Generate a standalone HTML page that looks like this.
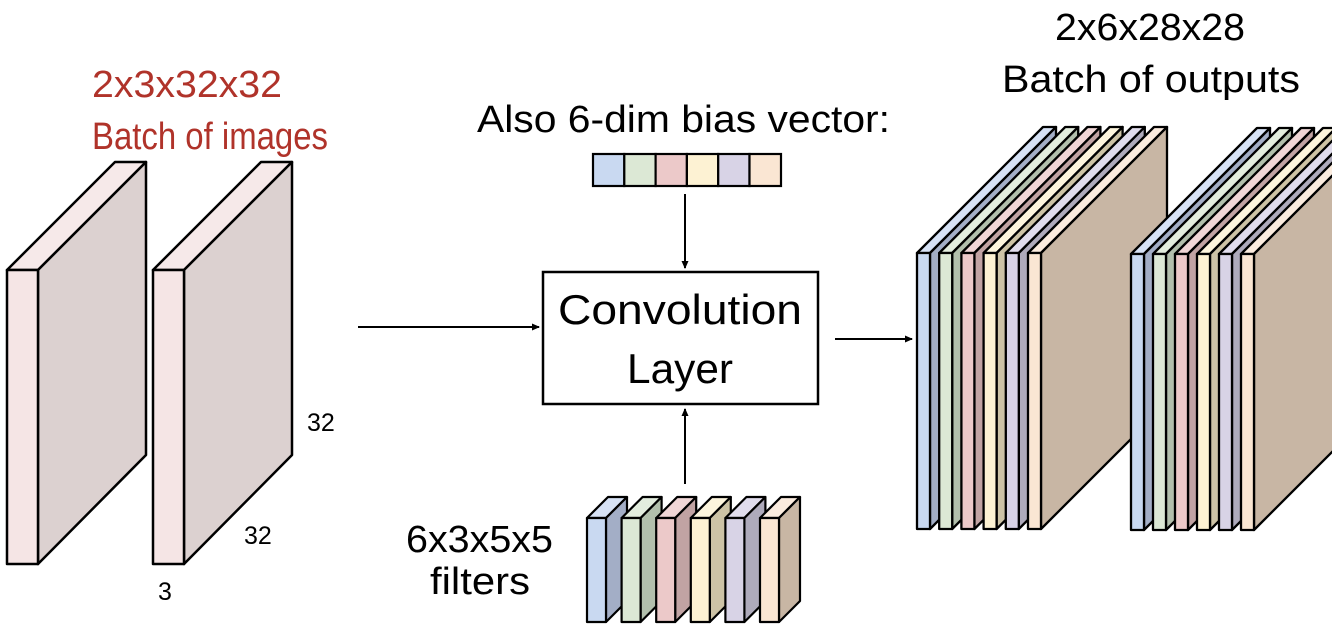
<!DOCTYPE html>
<html><head><meta charset="utf-8"><style>html,body{margin:0;padding:0;background:#fff}svg{display:block}</style></head>
<body>
<svg width="1332" height="626" viewBox="0 0 1332 626" xmlns="http://www.w3.org/2000/svg" font-family="Liberation Sans, sans-serif">
<defs>
<marker id="ah" markerWidth="8" markerHeight="8" refX="7" refY="4" orient="auto" markerUnits="userSpaceOnUse"><path d="M0,0.5 L8,4 L0,7.5 z" fill="#000"/></marker>
</defs>
<g stroke="#000" stroke-width="2.5" stroke-linejoin="round">
<polygon points="7,270 38,270 146,162 115,162" fill="#f6e9e9"/>
<polygon points="38,270 146,162 146,455 38,564" fill="#dcd1d0"/>
<rect x="7" y="270" width="31" height="294" fill="#f5e5e5"/>
<polygon points="153,270 184,270 292,162 261,162" fill="#f6e9e9"/>
<polygon points="184,270 292,162 292,455 184,564" fill="#dcd1d0"/>
<rect x="153" y="270" width="31" height="294" fill="#f5e5e5"/>
</g>
<g id="stack1" stroke="#000" stroke-width="2.3" stroke-linejoin="round"></g>
<g id="stack2" stroke="#000" stroke-width="2.3" stroke-linejoin="round"></g>
<g id="filt" stroke="#000" stroke-width="2.2" stroke-linejoin="round"></g>
<g stroke="#000" stroke-width="2.2">
<rect x="593" y="154" width="31.3" height="32" fill="#c9d9f1"/>
<rect x="624.3" y="154" width="31.3" height="32" fill="#dce8d5"/>
<rect x="655.6" y="154" width="31.3" height="32" fill="#ecc9c9"/>
<rect x="686.9" y="154" width="31.3" height="32" fill="#fdf2d3"/>
<rect x="718.2" y="154" width="31.3" height="32" fill="#d8d3e6"/>
<rect x="749.5" y="154" width="31.5" height="32" fill="#fae6d3"/>
</g>
<rect x="543" y="272" width="275" height="132" fill="#fff" stroke="#000" stroke-width="2.5"/>
<g stroke="#000" stroke-width="2" fill="none">
<line x1="685" y1="194" x2="685" y2="268" marker-end="url(#ah)"/>
<line x1="685" y1="484" x2="685" y2="409" marker-end="url(#ah)"/>
<line x1="358" y1="327" x2="539" y2="327" marker-end="url(#ah)"/>
<line x1="835" y1="339" x2="912" y2="339" marker-end="url(#ah)"/>
</g>
<g font-size="38" fill="#000">
<text x="92" y="97" fill="#b0332a" textLength="190" lengthAdjust="spacingAndGlyphs">2x3x32x32</text>
<text x="92" y="149" fill="#b0332a" textLength="236" lengthAdjust="spacingAndGlyphs">Batch of images</text>
<text x="477" y="132" textLength="413" lengthAdjust="spacingAndGlyphs">Also 6-dim bias vector:</text>
<text x="1055" y="40" textLength="190" lengthAdjust="spacingAndGlyphs">2x6x28x28</text>
<text x="1002" y="92" textLength="298" lengthAdjust="spacingAndGlyphs">Batch of outputs</text>
<text x="558" y="324" font-size="42" textLength="244" lengthAdjust="spacingAndGlyphs">Convolution</text>
<text x="627" y="383" font-size="42" textLength="106" lengthAdjust="spacingAndGlyphs">Layer</text>
<text x="406" y="552" textLength="147" lengthAdjust="spacingAndGlyphs">6x3x5x5</text>
<text x="430" y="594" textLength="100" lengthAdjust="spacingAndGlyphs">filters</text>
<text x="307" y="431" font-size="25">32</text>
<text x="244" y="544" font-size="25">32</text>
<text x="158" y="600" font-size="25">3</text>
</g>
</svg>
<script>
var cols=[["#c9d9f1","#a3aec6","#d7e2f5"],["#dce8d5","#b2bfac","#e3edde"],["#ecc9c9","#c1a3a3","#f0d6d6"],["#fdf2d3","#cdc3a6","#fdf5dd"],["#d8d3e6","#aeaabb","#e0dcec"],["#fae6d3","#c8b6a4","#fbecdf"]];
var NS="http://www.w3.org/2000/svg";
function poly(g,pts,f){var p=document.createElementNS(NS,"polygon");p.setAttribute("points",pts.map(function(a){return a.join(",")}).join(" "));p.setAttribute("fill",f);g.appendChild(p);}
function slab(g,x,y0,y1,w,d,c){
poly(g,[[x,y0],[x+w,y0],[x+w+d,y0-d],[x+d,y0-d]],c[2]);
poly(g,[[x+w,y0],[x+w+d,y0-d],[x+w+d,y1-d],[x+w,y1]],c[1]);
poly(g,[[x,y0],[x+w,y0],[x+w,y1],[x,y1]],c[0]);}
var s1=document.getElementById("stack1"),s2=document.getElementById("stack2"),f=document.getElementById("filt");
for(var i=0;i<6;i++){slab(s1,917+i*22.2,253,529,13,126,cols[i]);}
for(var i=0;i<6;i++){slab(s2,1131+i*22,254,530,13,126,cols[i]);}
for(var i=0;i<6;i++){slab(f,587+i*34.6,518,622,19,21,cols[i]);}
</script>
</body></html>
